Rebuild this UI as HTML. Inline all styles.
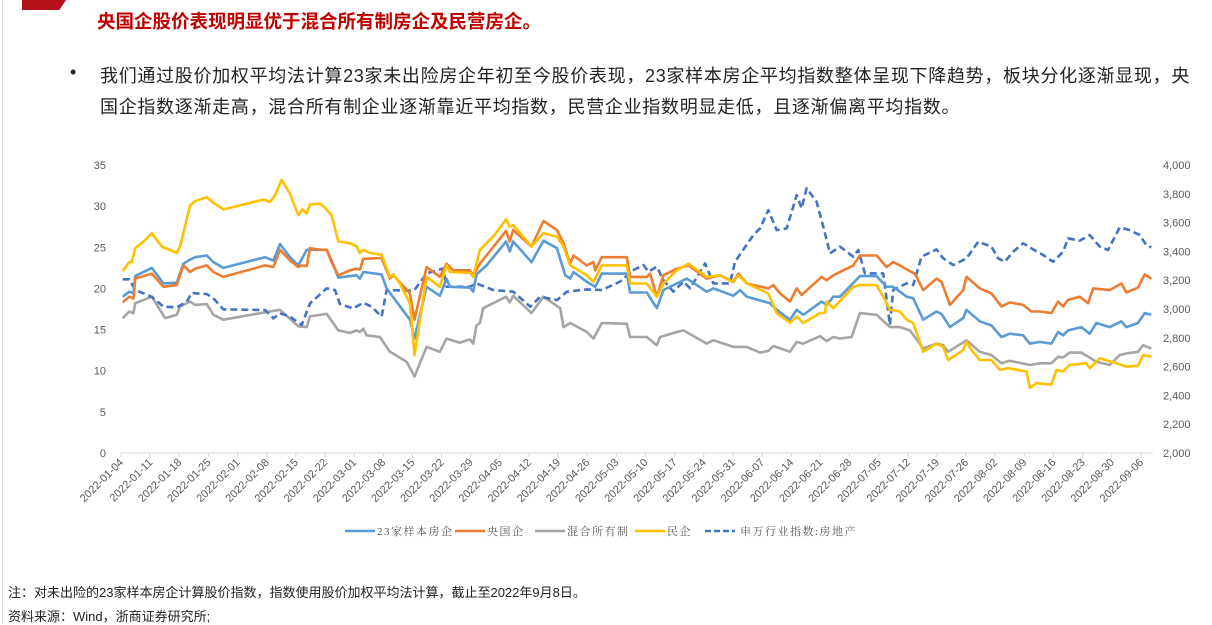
<!DOCTYPE html>
<html><head><meta charset="utf-8">
<style>
body{margin:0;width:1212px;height:624px;background:#fff;overflow:hidden;font-family:"Liberation Sans","Noto Sans CJK SC",sans-serif;position:relative}
.t{position:absolute;white-space:nowrap}
</style></head><body>
<div style="position:absolute;left:2px;top:0;width:1px;height:624px;background:#e0e0e0"></div>
<div style="position:absolute;left:22px;top:0;width:44px;height:10px;background:#b5121b;clip-path:polygon(0 0,100% 0,85% 100%,0 100%)"></div>
<div class="t" style="left:97px;top:8px;font-size:18.5px;font-weight:bold;color:#c00000">央国企股价表现明显优于混合所有制房企及民营房企。</div>
<div class="t" style="left:70px;top:62px;font-size:18px;color:#222">•</div>
<div class="t" style="left:100px;top:61px;font-size:18px;line-height:31px;letter-spacing:0.7px;color:#222;white-space:normal;width:1108px">我们通过股价加权平均法计算23家未出险房企年初至今股价表现，23家样本房企平均指数整体呈现下降趋势，板块分化逐渐显现，央国企指数逐渐走高，混合所有制企业逐渐靠近平均指数，民营企业指数明显走低，且逐渐偏离平均指数。</div>
<svg id="chart" width="1212" height="624" style="position:absolute;left:0;top:0" font-family="Liberation Sans, Noto Sans CJK SC, sans-serif"></svg>
<div class="t" style="left:8px;top:582px;font-size:13px;color:#222">注：对未出险的23家样本房企计算股价指数，指数使用股价加权平均法计算，截止至2022年9月8日。</div>
<div class="t" style="left:8px;top:606px;font-size:13px;color:#222">资料来源：Wind，浙商证券研究所;</div>
<script>
const tickLabels=["2022-01-04","2022-01-11","2022-01-18","2022-01-25","2022-02-01","2022-02-08","2022-02-15","2022-02-22","2022-03-01","2022-03-08","2022-03-15","2022-03-22","2022-03-29","2022-04-05","2022-04-12","2022-04-19","2022-04-26","2022-05-03","2022-05-10","2022-05-17","2022-05-24","2022-05-31","2022-06-07","2022-06-14","2022-06-21","2022-06-28","2022-07-05","2022-07-12","2022-07-19","2022-07-26","2022-08-02","2022-08-09","2022-08-16","2022-08-23","2022-08-30","2022-09-06"];
const leftTicks=[0,5,10,15,20,25,30,35];
const rightTicks=[2000,2200,2400,2600,2800,3000,3200,3400,3600,3800,4000];
const seriesNames=["23家样本房企","央国企","混合所有制","民企","申万行业指数:房地产"];
const yellowDays=[0.4,2.0,2.6,3.4,5.4,7.4,9.8,13.4,14.2,16.6,17.8,20.6,22.2,24.6,27.8,34.2,35.8,37.0,38.6,40.6,42.6,43.6,44.6,45.4,47.8,49.0,50.6,52.2,55.0,56.6,57.4,58.2,59.8,62.6,64.6,65.4,67.0,69.4,70.5,73.4,76.6,78.2,79.0,83.8,84.6,86.2,89.4,92.5,93.4,94.2,98.6,101.5,104.7,106.3,107.9,111.9,113.5,115.5,121.5,122.3,126.3,128.7,130.3,133.5,136.3,140.7,143.9,146.7,148.3,150.3,155.5,157.5,160.7,162.3,163.9,167.9,169.1,169.5,171.1,175.9,177.5,181.5,183.1,184.7,187.1,188.7,190.3,192.7,195.9,197.5,198.7,202.3,203.1,204.3,206.3,209.1,211.1,213.1,217.5,218.3,219.9,223.5,224.7,226.3,227.9,231.9,232.7,235.1,239.1,241.5,244.3,245.5,247.5];
const yellowVals=[22.1,23.2,23.2,24.9,25.7,26.7,25.1,24.3,25.1,30.1,30.6,31.1,30.4,29.6,30.0,30.8,30.5,31.3,33.2,31.5,28.9,29.6,29.1,30.2,30.3,29.8,28.9,25.7,25.5,25.1,24.3,24.7,24.3,24.1,21.4,21.7,20.6,18.2,11.9,21.4,20.2,22.8,22.0,21.9,21.4,24.7,26.3,28.4,27.5,27.7,25.1,26.7,26.3,25.1,22.8,21.6,20.8,22.8,22.8,20.6,20.6,19.0,20.6,22.2,23.0,21.4,21.6,20.8,21.6,20.6,19.4,17.0,15.8,16.6,15.8,17.0,17.0,18.4,17.6,20.2,20.4,20.4,19.0,17.4,17.2,16.2,15.8,12.3,13.3,12.9,11.3,12.5,13.5,12.5,11.3,11.3,10.1,10.3,9.9,7.9,8.5,8.3,10.1,9.9,10.7,10.9,10.3,11.5,10.9,10.5,10.6,11.9,11.7];
const orangeDays=[0.4,2.0,3.0,3.4,7.4,10.2,13.4,15.0,16.6,17.8,20.6,22.2,24.6,34.6,36.6,38.2,40.6,42.6,43.4,44.6,45.4,47.8,49.4,50.6,52.2,55.0,56.6,57.4,58.2,62.6,64.6,65.4,69.4,70.5,73.4,76.6,78.2,79.8,83.8,84.6,86.2,92.5,93.4,94.2,98.6,101.5,104.7,106.3,107.9,108.7,111.9,113.5,113.9,115.5,121.5,122.3,126.3,127.1,128.7,130.3,133.5,136.3,140.7,143.9,147.1,148.3,150.3,155.5,156.7,158.3,160.7,162.3,163.5,168.3,169.5,171.1,175.9,177.5,181.5,183.9,185.5,187.1,189.1,190.7,192.7,195.9,197.1,199.1,202.3,203.1,206.3,209.1,211.5,213.5,216.7,218.7,220.7,223.5,225.1,226.3,227.5,230.3,232.3,233.5,237.5,240.3,241.5,244.3,245.9,247.5];
const orangeVals=[18.3,19.0,18.8,21.2,21.8,20.2,20.4,22.8,22.0,22.4,22.8,22.0,21.4,22.8,22.6,24.7,23.4,22.6,22.8,22.7,24.9,24.7,24.7,23.2,21.6,22.2,22.4,22.3,23.6,23.7,21.2,21.6,19.4,16.2,22.6,21.4,23.0,22.2,22.2,21.6,23.0,27.0,25.7,27.1,25.1,28.2,27.1,25.5,23.0,24.0,22.8,23.2,22.2,23.8,23.8,21.4,21.4,21.8,19.0,21.6,22.4,22.8,21.2,21.6,20.8,21.8,20.6,20.0,20.4,19.4,18.4,20.0,19.2,21.4,21.0,21.6,22.8,24.0,24.0,22.6,23.2,22.8,22.2,21.8,19.8,21.2,20.8,18.0,19.8,21.4,20.0,19.4,17.8,18.3,18.0,17.2,17.2,17.0,18.4,17.8,18.6,19.0,18.2,20.0,19.8,20.6,19.5,20.1,21.7,21.2];
const blueDays=[0.4,2.0,3.0,3.4,7.4,10.2,13.4,15.0,16.6,17.8,20.6,22.2,24.6,34.6,36.6,38.2,40.6,42.6,44.6,49.4,50.6,52.2,55.0,56.6,57.4,58.2,62.6,63.8,69.4,70.5,73.4,76.6,78.2,79.0,83.8,84.6,85.4,87.8,92.5,93.4,94.2,98.6,101.5,104.7,106.7,107.9,108.7,111.9,113.9,115.5,121.5,122.3,126.3,128.7,130.3,133.5,135.9,140.7,142.3,147.1,148.7,150.3,155.9,157.5,160.7,162.3,163.9,168.3,169.5,171.1,172.7,177.5,181.5,183.9,185.5,187.1,188.7,190.3,192.7,195.9,197.1,199.1,202.3,203.1,206.3,209.1,211.5,213.5,216.7,218.3,220.7,223.5,225.1,226.3,227.5,230.7,232.7,234.3,237.5,240.3,241.5,244.3,245.9,247.5];
const blueVals=[19.0,19.6,19.4,21.5,22.5,20.6,20.7,23.0,23.5,23.8,24.0,23.2,22.5,23.8,23.4,25.4,23.8,22.8,24.7,24.7,23.4,21.3,21.5,21.6,21.2,22.0,21.7,20.0,16.2,13.9,20.2,19.1,21.2,20.2,20.1,19.6,21.7,22.8,25.7,24.5,25.7,23.2,25.8,24.9,21.6,21.2,22.0,20.8,20.2,21.8,21.8,19.5,19.5,17.6,19.8,20.6,21.2,19.6,20.0,19.1,19.8,19.0,18.2,17.4,16.2,17.4,16.8,18.4,18.0,19.0,19.0,21.5,21.5,20.2,20.2,19.6,19.0,18.8,16.2,17.2,16.9,15.3,16.4,17.4,16.0,15.5,14.1,14.5,14.3,13.3,13.5,13.3,14.7,14.3,14.9,15.3,14.5,15.8,15.3,16.0,15.3,15.8,17.0,16.8];
const grayDays=[0.4,2.0,3.0,3.4,7.4,10.6,13.4,14.2,16.6,17.8,20.6,22.2,24.6,34.6,38.2,42.6,44.6,45.4,49.4,52.2,55.0,56.6,57.4,58.2,59.0,62.2,64.6,68.6,70.5,73.4,76.6,78.2,81.4,83.8,84.6,85.4,86.2,87.0,90.2,92.5,93.4,94.2,98.6,101.5,105.5,106.3,107.9,111.9,113.5,115.5,121.5,122.3,126.3,128.7,129.5,133.5,135.1,140.7,142.3,147.1,150.3,153.5,155.5,156.7,160.7,162.3,163.9,167.9,169.5,171.1,172.7,175.5,177.5,181.5,184.7,187.1,189.5,192.7,195.9,197.5,198.7,203.1,206.3,209.1,211.5,213.5,218.3,220.7,223.5,225.1,226.3,227.9,230.7,232.3,234.3,237.5,239.9,241.5,244.3,245.5,247.5];
const grayVals=[16.4,17.2,17.0,18.2,19.0,16.4,16.8,17.8,18.4,18.0,18.1,16.8,16.2,17.1,17.4,15.4,15.3,16.6,16.9,14.9,14.6,14.9,14.7,15.1,14.3,14.1,12.3,11.1,9.3,12.9,12.3,13.9,13.4,13.8,13.3,15.5,15.8,17.6,18.4,19.0,18.3,19.1,17.0,19.0,17.6,15.3,15.8,14.7,13.9,15.8,15.7,14.1,14.1,13.1,14.1,14.7,14.9,13.3,13.7,12.9,12.9,12.2,12.4,13.0,12.3,13.5,13.3,14.2,13.6,14.1,13.9,14.1,17.0,16.8,15.3,15.3,14.9,12.7,13.3,13.1,12.3,13.7,12.3,11.9,10.9,11.2,10.7,10.9,10.9,11.7,11.6,12.2,12.2,11.7,11.1,10.7,11.9,12.1,12.3,13.1,12.7];
const indexDays=[0.4,2.0,3.4,7.4,10.2,13.4,15.8,17.0,17.8,20.6,22.2,24.6,34.6,36.6,38.2,40.6,43.4,45.4,49.4,51.4,52.6,55.8,58.2,60.2,62.6,63.8,69.4,70.5,73.4,77.4,78.2,83.8,85.4,89.4,94.2,98.3,100.7,104.7,107.1,111.9,115.5,119.9,123.1,125.5,126.7,128.7,130.3,132.7,135.1,136.7,140.3,142.3,146.3,147.5,151.9,153.5,155.5,157.5,159.9,162.3,163.5,164.7,167.1,168.7,170.3,172.7,175.9,177.1,178.7,183.1,184.7,185.5,187.1,188.7,190.3,192.3,195.9,197.5,199.9,203.1,205.9,209.1,210.7,212.3,214.3,216.7,219.1,221.5,223.9,226.3,227.5,230.3,232.7,235.1,237.1,239.9,242.3,244.7,246.3,247.5];
const indexVals=[3206,3206,3132,3085,3016,3011,3051,3113,3109,3104,3074,2997,2993,2935,2970,2947,2889,3039,3143,3132,3034,3004,3044,3016,2947,3132,3127,3132,3247,3282,3155,3155,3178,3132,3120,3016,3085,3062,3120,3136,3132,3190,3271,3305,3259,3294,3201,3120,3190,3143,3317,3178,3178,3328,3514,3560,3687,3548,3560,3791,3699,3838,3745,3572,3386,3433,3363,3410,3247,3247,2889,3132,3155,3178,3166,3363,3414,3352,3305,3352,3467,3433,3352,3328,3398,3456,3414,3375,3328,3398,3491,3474,3514,3433,3410,3567,3548,3514,3444,3428];

const NS="http://www.w3.org/2000/svg";
const svg=document.getElementById('chart');
const X0=121,DX=4.163,Y0=453,PH=288;
function xs(d){return X0+d*DX;}
function yl(v){return Y0-v/35*PH;}
function yr(v){return Y0-(v-2000)/2000*PH;}
function mk(tag,attrs){const e=document.createElementNS(NS,tag);for(const k in attrs)e.setAttribute(k,attrs[k]);svg.appendChild(e);return e;}
const axis=mk('line',{x1:X0,y1:Y0,x2:1153,y2:Y0,stroke:'#d9d9d9','stroke-width':1});


tickLabels.forEach((lab,i)=>{
  const x=xs(i*7);
  const tk=mk('line',{x1:x,y1:Y0,x2:x,y2:Y0+4,stroke:'#d9d9d9'});
  
  
  const t=mk('text',{x:x+3,y:Y0+10,'font-size':11,fill:'#595959','text-anchor':'end',transform:`rotate(-45 ${x+3} ${Y0+10})`});
  t.textContent=lab;
  
  
});
leftTicks.forEach(v=>{
  const t=mk('text',{x:106,y:yl(v)+4,'font-size':11,fill:'#595959','text-anchor':'end'});
  t.textContent=v;
  
  
});
rightTicks.forEach(v=>{
  const t=mk('text',{x:1163,y:yr(v)+4,'font-size':11,fill:'#595959'});
  t.textContent=v.toLocaleString('en-US');
  
  
});
function line(days,vals,fy,color,name,dash){
  const p=days.map((d,i)=>(i?'L':'M')+xs(d).toFixed(1)+','+fy(vals[i]).toFixed(1)).join('');
  const e=mk('path',{d:p,fill:'none',stroke:color,'stroke-width':2.6,'stroke-linejoin':'round'});
  if(dash)e.setAttribute('stroke-dasharray','7,4');
  
  
}
line(grayDays,grayVals,yl,'#A5A5A5','mixed-ownership-line');
line(indexDays,indexVals,yr,'#4472C4','sw-real-estate-index-line',true);
line(blueDays,blueVals,yl,'#5B9BD5','sample-23-firms-line');
line(orangeDays,orangeVals,yl,'#ED7D31','soe-line');
line(yellowDays,yellowVals,yl,'#FFC000','private-firms-line');
const legColors=['#5B9BD5','#ED7D31','#A5A5A5','#FFC000','#4472C4'];
const legX=[345,455,535,635,705];
seriesNames.forEach((n,i)=>{
  const l=mk('line',{x1:legX[i],y1:531,x2:legX[i]+30,y2:531,stroke:legColors[i],'stroke-width':2.6});
  if(i===4)l.setAttribute('stroke-dasharray','6,3');
  
  
  const t=mk('text',{x:legX[i]+(i===4?35:32),y:535,'font-size':11,fill:'#595959','font-family':'Liberation Serif, Noto Serif CJK SC, serif','letter-spacing':'1.5'});
  t.textContent=n;
  
  
});
</script>
</body></html>
